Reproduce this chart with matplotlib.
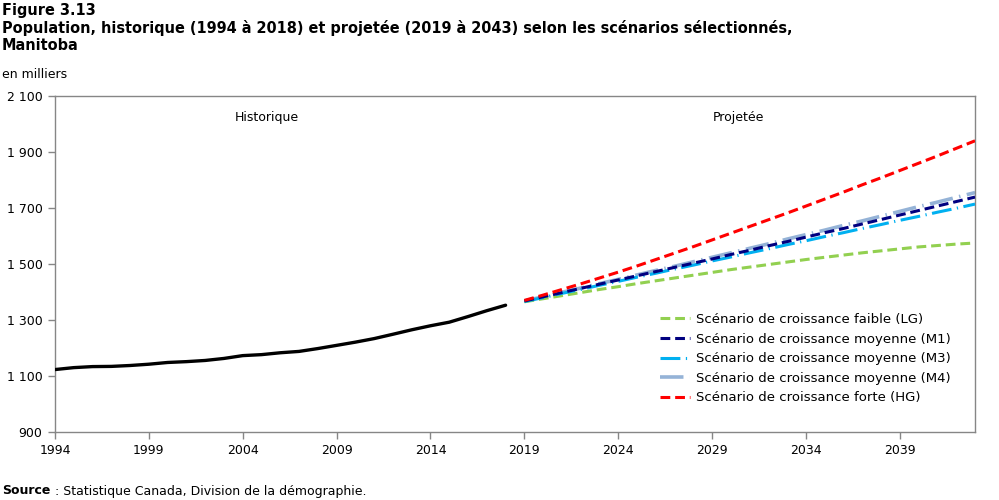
import numpy as np
import matplotlib
matplotlib.use("Agg")
import matplotlib.pyplot as plt
from matplotlib.ticker import FuncFormatter

# historical population, thousands
hist_years = list(range(1994, 2019))
hist_pop = [1123.0, 1129.9, 1133.6, 1134.3, 1137.5, 1142.1, 1148.3, 1151.3, 1155.5,
            1162.7, 1172.8, 1176.3, 1183.0, 1187.8, 1198.0, 1209.4, 1220.9, 1233.6,
            1249.1, 1265.0, 1279.4, 1292.2, 1312.3, 1333.3, 1352.8]

# projections 2019-2043
proj_years = list(range(2019, 2044))
lg = [1365, 1376, 1387, 1398, 1409, 1419, 1430, 1440, 1450, 1460, 1470, 1480, 1489,
      1498, 1507, 1516, 1524, 1532, 1540, 1547, 1554, 1561, 1566, 1571, 1575]
m1 = [1368, 1383, 1398, 1413, 1428, 1443, 1458, 1473, 1488, 1503, 1518, 1534, 1549,
      1565, 1580, 1596, 1612, 1627, 1643, 1659, 1675, 1691, 1707, 1723, 1739]
m3 = [1366, 1380, 1395, 1409, 1424, 1438, 1453, 1467, 1482, 1496, 1511, 1525, 1540,
      1554, 1569, 1583, 1598, 1612, 1627, 1641, 1656, 1670, 1685, 1699, 1714]
m4 = [1368, 1383, 1399, 1414, 1430, 1445, 1461, 1477, 1492, 1508, 1524, 1540, 1556,
      1572, 1589, 1605, 1621, 1638, 1654, 1671, 1688, 1705, 1721, 1738, 1755]
hg = [1370, 1389, 1409, 1429, 1450, 1471, 1493, 1516, 1539, 1562, 1586, 1610, 1634,
      1658, 1682, 1707, 1732, 1757, 1783, 1808, 1834, 1860, 1886, 1913, 1940]

labels = ["Scénario de croissance faible (LG)",
          "Scénario de croissance moyenne (M1)",
          "Scénario de croissance moyenne (M3)",
          "Scénario de croissance moyenne (M4)",
          "Scénario de croissance forte (HG)"]

plt.rcParams['font.family'] = ['DejaVu Sans']

fig = plt.figure(figsize=(9.99, 5.0), dpi=100)
ax = fig.add_axes([0.055, 0.136, 0.921, 0.672])

ax.plot(hist_years, hist_pop, color='black', lw=2.4, solid_capstyle='round', zorder=5)

short = (3.2, 1.6)
longdd = (6.5, 1.8, 0.4, 1.8)
l_lg, = ax.plot(proj_years, lg, color='#92D050', lw=2.2, dashes=short, zorder=3)
l_m4, = ax.plot(proj_years, m4, color='#95B3D7', lw=2.6, dashes=longdd, zorder=2)
l_m3, = ax.plot(proj_years, m3, color='#00B0F0', lw=2.2, dashes=longdd, zorder=3)
l_m1, = ax.plot(proj_years, m1, color='#000080', lw=2.2, dashes=short, zorder=4)
l_hg, = ax.plot(proj_years, hg, color='#FF0000', lw=2.2, dashes=short, zorder=4)

ax.set_xlim(1994, 2043)
ax.set_ylim(900, 2100)
ax.set_xticks(range(1994, 2043, 5))
ax.set_yticks(range(900, 2101, 200))
ax.yaxis.set_major_formatter(FuncFormatter(lambda v, p: f"{int(v):,}".replace(",", " ")))
ax.tick_params(axis='both', direction='out', length=5, width=1, color='#868686',
               labelsize=9, colors='black')
ax.tick_params(axis='x', pad=4)
ax.tick_params(axis='y', pad=4)
for s in ax.spines.values():
    s.set_color('#868686')
    s.set_linewidth(1)

ax.text(2005.3, 2025, "Historique", ha='center', va='center', fontsize=9)
ax.text(2030.4, 2025, "Projetée", ha='center', va='center', fontsize=9)

leg = fig.legend([l_lg, l_m1, l_m3, l_m4, l_hg], labels, loc='upper left',
                 bbox_to_anchor=(0.6607, 0.374), frameon=False, fontsize=9.5,
                 borderpad=0, borderaxespad=0,
                 handlelength=2.3, handletextpad=0.4, labelspacing=0.5)

title_kw = dict(ha='left', va='center', fontsize=11.6, fontweight='bold',
                fontstretch='condensed')
fig.text(0.002, 0.978, "Figure 3.13", **title_kw)
fig.text(0.002, 0.943,
         "Population, historique (1994 à 2018) et projetée (2019 à 2043) selon les scénarios sélectionnés,",
         **title_kw)
fig.text(0.002, 0.909, "Manitoba", **title_kw)
fig.text(0.002, 0.851, "en milliers", ha='left', va='center', fontsize=9)
fig.text(0.002, 0.018, "Source", ha='left', va='center', fontsize=9, fontweight='bold')
fig.text(0.051, 0.018, " : Statistique Canada, Division de la démographie.",
         ha='left', va='center', fontsize=9)

fig.savefig('out.png', dpi=100)
